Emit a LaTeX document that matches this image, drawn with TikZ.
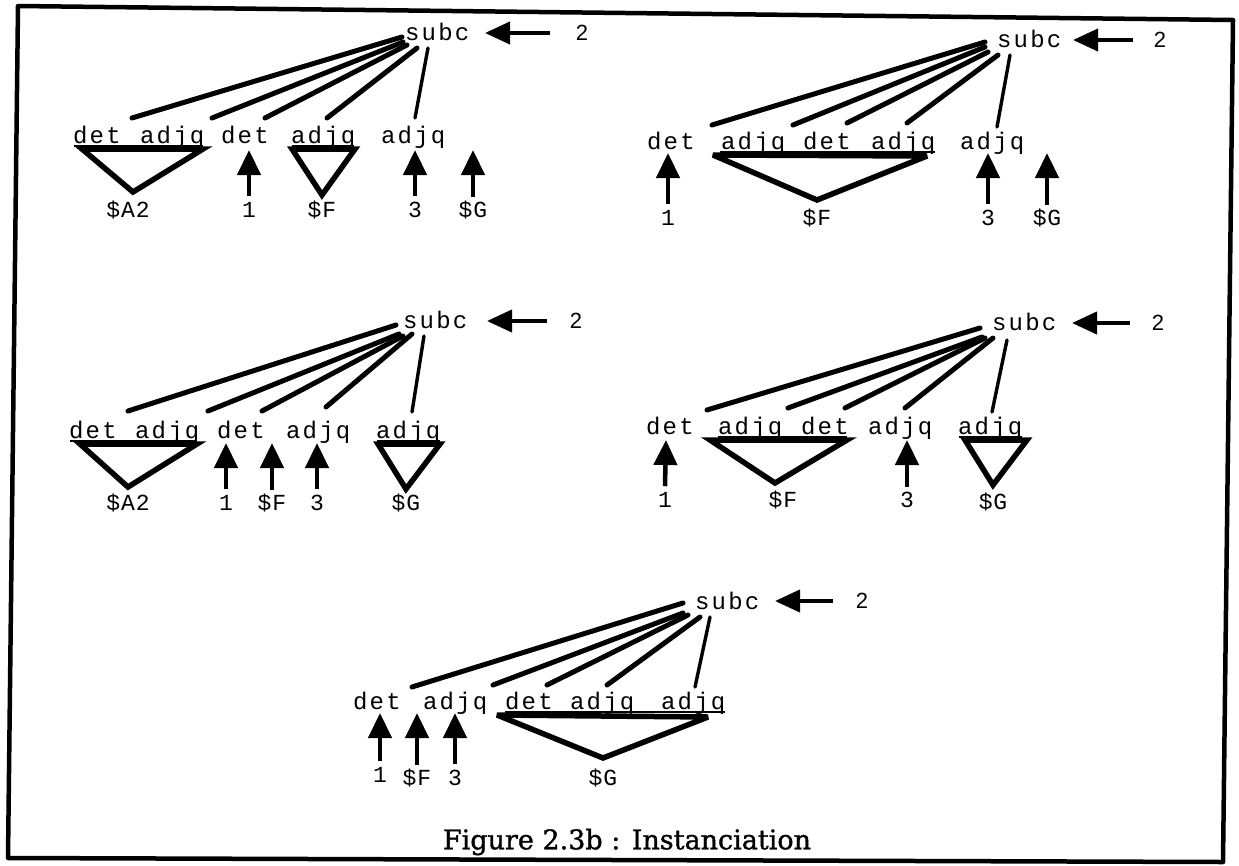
\documentclass[tikz,border=0pt]{standalone}
\usepackage{fontspec}
\usetikzlibrary{arrows.meta}
\newfontfamily\wfont[LetterSpace=9]{Liberation Mono}
\newfontfamily\lfont[LetterSpace=4]{Liberation Mono}
\newfontfamily\nfont{Liberation Sans}
\newfontfamily\cfont[FakeBold=1.2]{DejaVu Serif}
\begin{document}
\begin{tikzpicture}[x=1pt,y=-1pt,
  word/.style={font=\wfont\fontsize{24}{26}\selectfont, anchor=base west, inner sep=0pt},
  lab/.style={font=\lfont\fontsize{23}{25}\selectfont, inner sep=0pt},
  num/.style={font=\nfont\fontsize{22}{24}\selectfont, inner sep=0pt},
  branch/.style={line width=5pt, line cap=round},
  lightbranch/.style={line width=3.4pt, line cap=round},
  tri/.style={line width=5.5pt, line join=miter, miter limit=4},
  uline/.style={line width=1.6pt},
  uparr/.style={line width=4.5pt, -{Triangle[length=25pt,width=23pt]}},
  leftarr/.style={line width=4pt, -{Triangle[length=25pt,width=22pt]}},
  frame/.style={line width=4.5pt, line join=round}]
\useasboundingbox (0,0) rectangle (1239,865);
\fill[white] (0,0) rectangle (1239,865);
\draw[frame] (18,6) -- (1233,20) -- (1223,862) -- (8,858) -- cycle;

% ---------------- Panel 1 ----------------
\node[word] (a0) at (405,40) {subc};
\node[num] (a2) at (582,33) {2};
\coordinate (a0h) at (550,33); \coordinate (a0t) at (485,33);
\draw[leftarr] (a0h) -- (a0t);
\coordinate (a1s) at (402,37); \coordinate (a1e) at (132,118);
\coordinate (a2s) at (403,42); \coordinate (a2e) at (212,118);
\coordinate (a3s) at (407,45); \coordinate (a3e) at (265,118);
\coordinate (a4s) at (417,48); \coordinate (a4e) at (327,118);
\coordinate (a5s) at (428,48); \coordinate (a5e) at (415,118);
\draw[branch] (a1s) -- (a1e); \draw[branch] (a2s) -- (a2e);
\draw[branch] (a3s) -- (a3e); \draw[branch] (a4s) -- (a4e);
\draw[lightbranch] (a5s) -- (a5e);
\node[word] (aw1) at (73,143) {det};
\node[word] (aw2) at (140,143) {adjq};
\node[word] (aw3) at (221,143) {det};
\node[word] (aw4) at (291,143) {adjq};
\node[word] (aw5) at (381,143) {adjq};
\draw[uline] (74,146) -- (203,146);
\draw[tri] (82,149) -- (203,149) -- (133,192) -- cycle;
\node[lab] (al1) at (128,210) {\$A2};
\draw[uline] (292,146) -- (354,146);
\draw[tri] (292,149) -- (355,149) -- (322,195) -- cycle;
\node[lab] (al3) at (322,210) {\$F};
\node[lab] (al2) at (249,210) {1};
\node[lab] (al4) at (415,210) {3};
\node[lab] (al5) at (473,210) {\$G};
\coordinate (at2) at (249,150); \coordinate (at4) at (415,150); \coordinate (at5) at (473,150);
\draw[uparr] ([yshift=6pt]al2.north) -- (at2);
\draw[uparr] ([yshift=6pt]al4.north) -- (at4);
\draw[uparr] ([yshift=4pt]al5.north) -- (at5);

% ---------------- Panel 2 ----------------
\node[word] (b0) at (997,47) {subc};
\node[num] (b2) at (1160,40) {2};
\coordinate (b0h) at (1133,40); \coordinate (b0t) at (1073,40);
\draw[leftarr] (b0h) -- (b0t);
\coordinate (b1s) at (985,42); \coordinate (b1e) at (712,125);
\coordinate (b2s) at (985,47); \coordinate (b2e) at (793,125);
\coordinate (b3s) at (988,52); \coordinate (b3e) at (847,123);
\coordinate (b4s) at (998,55); \coordinate (b4e) at (907,123);
\coordinate (b5s) at (1010,55); \coordinate (b5e) at (997,127);
\draw[branch] (b1s) -- (b1e); \draw[branch] (b2s) -- (b2e);
\draw[branch] (b3s) -- (b3e); \draw[branch] (b4s) -- (b4e);
\draw[lightbranch] (b5s) -- (b5e);
\node[word] (bw1) at (647,149) {det};
\node[word] (bw2) at (721,149) {adjq};
\node[word] (bw3) at (803,149) {det};
\node[word] (bw4) at (871,149) {adjq};
\node[word] (bw5) at (960,149) {adjq};
\draw[uline] (720,152) -- (935,152);
\draw[tri] (713,155) -- (927,156) -- (817,200) -- cycle;
\node[lab] (bl2) at (817,218) {\$F};
\node[lab] (bl1) at (668,218) {1};
\node[lab] (bl4) at (988,218) {3};
\node[lab] (bl5) at (1047,218) {\$G};
\coordinate (bt1) at (668,153); \coordinate (bt4) at (988,153); \coordinate (bt5) at (1047,153);
\draw[uparr] ([yshift=6pt]bl1.north) -- (bt1);
\draw[uparr] ([yshift=6pt]bl4.north) -- (bt4);
\draw[uparr] ([yshift=4pt]bl5.north) -- (bt5);

% ---------------- Panel 3 ----------------
\node[word] (c0) at (403,328) {subc};
\node[num] (c2) at (576,321) {2};
\coordinate (c0h) at (547,321); \coordinate (c0t) at (487,321);
\draw[leftarr] (c0h) -- (c0t);
\coordinate (c1s) at (396,325); \coordinate (c1e) at (128,411);
\coordinate (c2s) at (399,334); \coordinate (c2e) at (208,411);
\coordinate (c3s) at (403,336); \coordinate (c3e) at (262,411);
\coordinate (c4s) at (412,334); \coordinate (c4e) at (326,407);
\coordinate (c5s) at (424,336); \coordinate (c5e) at (412,412);
\draw[branch] (c1s) -- (c1e); \draw[branch] (c2s) -- (c2e);
\draw[branch] (c3s) -- (c3e); \draw[branch] (c4s) -- (c4e);
\draw[lightbranch] (c5s) -- (c5e);
\node[word] (cw1) at (69,438) {det};
\node[word] (cw2) at (135,438) {adjq};
\node[word] (cw3) at (217,438) {det};
\node[word] (cw4) at (286,438) {adjq};
\node[word] (cw5) at (376,438) {adjq};
\draw[uline] (70,441) -- (197,441);
\draw[tri] (80,444) -- (197,444) -- (128,487) -- cycle;
\node[lab] (cl1) at (128,503) {\$A2};
\draw[uline] (377,441) -- (440,441);
\draw[tri] (378,444) -- (440,444) -- (406,489) -- cycle;
\node[lab] (cl5) at (406,503) {\$G};
\node[lab] (cl2) at (226,503) {1};
\node[lab] (cl3) at (272,503) {\$F};
\node[lab] (cl4) at (317,503) {3};
\coordinate (ct2) at (226,443); \coordinate (ct3) at (272,443); \coordinate (ct4) at (317,443);
\draw[uparr] ([yshift=6pt]cl2.north) -- (ct2);
\draw[uparr] ([yshift=4pt]cl3.north) -- (ct3);
\draw[uparr] ([yshift=6pt]cl4.north) -- (ct4);

% ---------------- Panel 4 ----------------
\node[word] (d0) at (992,330) {subc};
\node[num] (d2) at (1158,323) {2};
\coordinate (d0h) at (1130,323); \coordinate (d0t) at (1072,323);
\draw[leftarr] (d0h) -- (d0t);
\coordinate (d1s) at (980,328); \coordinate (d1e) at (707,410);
\coordinate (d2s) at (982,337); \coordinate (d2e) at (788,408);
\coordinate (d3s) at (985,338); \coordinate (d3e) at (845,408);
\coordinate (d4s) at (993,338); \coordinate (d4e) at (905,408);
\coordinate (d5s) at (1007,340); \coordinate (d5e) at (992,412);
\draw[branch] (d1s) -- (d1e); \draw[branch] (d2s) -- (d2e);
\draw[branch] (d3s) -- (d3e); \draw[branch] (d4s) -- (d4e);
\draw[lightbranch] (d5s) -- (d5e);
\node[word] (dw1) at (646,434) {det};
\node[word] (dw2) at (718,434) {adjq};
\node[word] (dw3) at (801,434) {det};
\node[word] (dw4) at (868,434) {adjq};
\node[word] (dw5) at (958,434) {adjq};
\draw[uline] (718,437) -- (847,437);
\draw[tri] (710,440) -- (847,440) -- (775,483) -- cycle;
\node[lab] (dl2) at (783,500) {\$F};
\draw[uline] (959,437) -- (1022,437);
\draw[tri] (965,440) -- (1027,440) -- (993,485) -- cycle;
\node[lab] (dl5) at (993,502) {\$G};
\node[lab] (dl1) at (665,500) {1};
\node[lab] (dl4) at (907,500) {3};
\coordinate (dt1) at (666,440); \coordinate (dt4) at (907,440);
\draw[uparr] ([yshift=6pt]dl1.north) -- (dt1);
\draw[uparr] ([yshift=5pt]dl4.north) -- (dt4);

% ---------------- Panel 5 ----------------
\node[word] (e0) at (695,609) {subc};
\node[num] (e2) at (862,601) {2};
\coordinate (e0h) at (833,601); \coordinate (e0t) at (775,601);
\draw[leftarr] (e0h) -- (e0t);
\coordinate (e1s) at (683,603); \coordinate (e1e) at (412,687);
\coordinate (e2s) at (683,613); \coordinate (e2e) at (493,685);
\coordinate (e3s) at (688,615); \coordinate (e3e) at (547,685);
\coordinate (e4s) at (700,617); \coordinate (e4e) at (607,685);
\coordinate (e5s) at (710,617); \coordinate (e5e) at (695,687);
\draw[branch] (e1s) -- (e1e); \draw[branch] (e2s) -- (e2e);
\draw[branch] (e3s) -- (e3e); \draw[branch] (e4s) -- (e4e);
\draw[lightbranch] (e5s) -- (e5e);
\node[word] (ew1) at (353,709) {det};
\node[word] (ew2) at (423,709) {adjq};
\node[word] (ew3) at (505,709) {det};
\node[word] (ew4) at (570,709) {adjq};
\node[word] (ew5) at (661,709) {adjq};
\draw[uline] (505,712) -- (725,712);
\draw[tri] (497,715) -- (708,717) -- (603,758) -- cycle;
\node[lab] (el5) at (603,778) {\$G};
\node[lab] (el1) at (380,775) {1};
\node[lab] (el2) at (417,778) {\$F};
\node[lab] (el3) at (455,778) {3};
\coordinate (et1) at (380,713); \coordinate (et2) at (417,713); \coordinate (et3) at (455,713);
\draw[uparr] ([yshift=6pt]el1.north) -- (et1);
\draw[uparr] ([yshift=4pt]el2.north) -- (et2);
\draw[uparr] ([yshift=6pt]el3.north) -- (et3);

\node[font=\cfont\fontsize{27}{29}\selectfont, inner sep=0pt] (cap) at (627,842) {Figure 2.3b : Instanciation};
\end{tikzpicture}
\end{document}
